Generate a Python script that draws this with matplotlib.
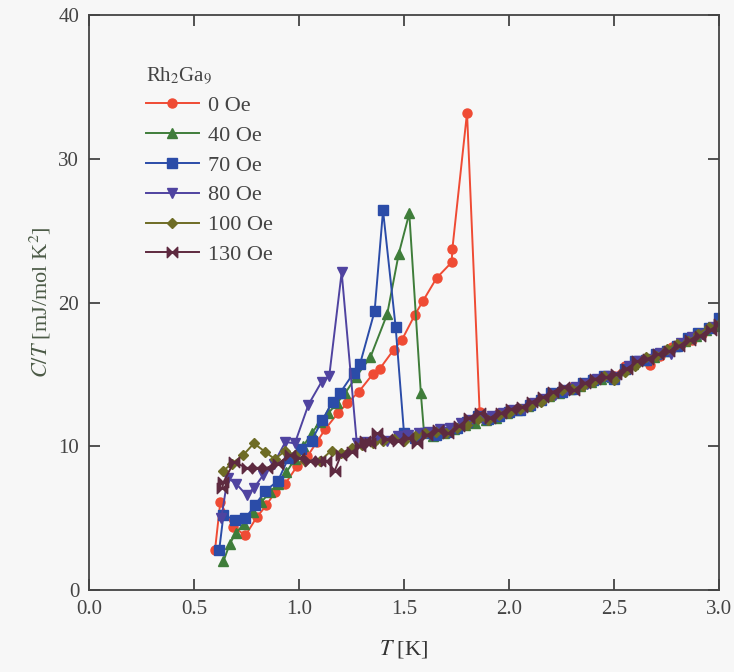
import matplotlib.pyplot as plt
from matplotlib.path import Path

plt.rcParams['font.family'] = ['Liberation Serif', 'DejaVu Serif']
plt.rcParams['mathtext.fontset'] = 'stix'

# C/T data for Rh2Ga9 at different fields
T_0 = [0.60, 0.625, 0.685, 0.745, 0.80, 0.845, 0.885, 0.935, 0.99, 1.04, 1.085, 1.125, 1.185, 1.23,
       1.285, 1.35, 1.385, 1.45, 1.49, 1.55, 1.59, 1.655, 1.727, 1.73, 1.80, 1.86, 1.90, 1.95, 2.00,
       2.05, 2.10, 2.15, 2.20, 2.25, 2.30, 2.35, 2.40, 2.45, 2.50, 2.55, 2.60, 2.67, 2.72, 2.776,
       2.82, 2.87, 2.92, 2.96, 3.00]
C_0 = [2.8, 6.1, 4.4, 3.8, 5.1, 5.9, 6.8, 7.4, 8.6, 9.3, 10.3, 11.2, 12.3, 13.0,
       13.8, 15.0, 15.4, 16.7, 17.4, 19.1, 20.1, 21.7, 22.8, 23.7, 33.2, 12.4, 12.0, 12.3, 12.5,
       12.6, 12.9, 13.3, 13.5, 13.9, 14.1, 14.4, 14.6, 14.8, 14.9, 15.6, 15.8, 15.65, 16.3, 16.9,
       17.1, 17.4, 17.8, 18.2, 18.6]

T_40 = [0.64, 0.67, 0.70, 0.74, 0.78, 0.82, 0.86, 0.90, 0.94, 0.98, 1.02, 1.06, 1.10, 1.14, 1.18,
        1.22, 1.27, 1.34, 1.42, 1.475, 1.525, 1.58, 1.595, 1.64, 1.69, 1.74, 1.79, 1.84, 1.89, 1.94,
        1.99, 2.04, 2.09, 2.14, 2.19, 2.24, 2.29, 2.34, 2.39, 2.44, 2.49, 2.54, 2.59, 2.64, 2.69,
        2.74, 2.79, 2.84, 2.89, 2.94, 2.99]
C_40 = [2.0, 3.2, 4.0, 4.6, 5.4, 6.1, 6.8, 7.4, 8.2, 9.1, 10.0, 10.9, 11.7, 12.3, 13.0,
        13.7, 14.8, 16.2, 19.2, 23.4, 26.2, 13.7, 11.0, 10.7, 10.9, 11.2, 11.5, 11.6, 11.8, 12.0,
        12.3, 12.5, 12.8, 13.2, 13.5, 13.7, 14.0, 14.2, 14.5, 14.7, 14.8, 15.3, 15.7, 16.0, 16.2,
        16.6, 17.0, 17.3, 17.7, 18.1, 18.4]

T_70 = [0.62, 0.64, 0.695, 0.745, 0.79, 0.84, 0.90, 0.95, 1.01, 1.06, 1.11, 1.16, 1.195, 1.26,
        1.29, 1.36, 1.40, 1.46, 1.50, 1.55, 1.60, 1.65, 1.70, 1.75, 1.80, 1.85, 1.90, 1.95, 2.00,
        2.05, 2.10, 2.15, 2.20, 2.25, 2.30, 2.35, 2.40, 2.45, 2.50, 2.55, 2.60, 2.65, 2.70, 2.75,
        2.80, 2.85, 2.90, 2.95, 3.00]
C_70 = [2.8, 5.2, 4.9, 5.0, 5.9, 6.9, 7.6, 9.2, 9.8, 10.4, 11.8, 13.1, 13.7, 15.1,
        15.7, 19.4, 26.4, 18.3, 10.9, 10.6, 10.9, 10.8, 11.0, 11.3, 11.7, 12.1, 11.9, 12.1, 12.4,
        12.5, 12.9, 13.2, 13.7, 13.8, 14.0, 14.4, 14.6, 14.9, 14.7, 15.4, 15.9, 16.0, 16.4, 16.6,
        17.0, 17.5, 17.9, 18.2, 18.9]

T_80 = [0.63, 0.66, 0.70, 0.75, 0.785, 0.83, 0.88, 0.935, 0.98, 1.045, 1.108, 1.144, 1.203, 1.275,
        1.32, 1.37, 1.42, 1.47, 1.52, 1.57, 1.62, 1.67, 1.72, 1.77, 1.82, 1.87, 1.92, 1.97, 2.02,
        2.07, 2.12, 2.17, 2.22, 2.27, 2.32, 2.37, 2.42, 2.47, 2.52, 2.57, 2.62, 2.67, 2.72, 2.77,
        2.82, 2.87, 2.92, 2.97]
C_80 = [5.0, 7.8, 7.4, 6.6, 7.1, 8.0, 8.8, 10.3, 10.2, 12.9, 14.5, 14.9, 22.1, 10.25,
        10.3, 10.5, 10.4, 10.7, 10.8, 10.9, 11.0, 11.2, 11.3, 11.6, 11.8, 12.0, 12.1, 12.3, 12.5,
        12.6, 13.0, 13.3, 13.6, 13.9, 14.1, 14.3, 14.7, 14.9, 14.8, 15.6, 15.9, 16.1, 16.5, 16.4,
        17.2, 17.6, 17.8, 18.3]

T_100 = [0.64, 0.68, 0.735, 0.785, 0.84, 0.885, 0.935, 0.98, 1.03, 1.10, 1.155, 1.20, 1.25, 1.30,
         1.35, 1.40, 1.45, 1.50, 1.55, 1.60, 1.65, 1.70, 1.75, 1.80, 1.85, 1.90, 1.95, 2.00, 2.05,
         2.10, 2.15, 2.20, 2.25, 2.30, 2.35, 2.40, 2.45, 2.50, 2.55, 2.60, 2.65, 2.70, 2.75, 2.80,
         2.85, 2.90, 2.95, 3.00]
C_100 = [8.3, 8.8, 9.4, 10.2, 9.6, 9.1, 9.7, 9.4, 9.0, 9.0, 9.7, 9.5, 9.9, 10.1,
         10.2, 10.4, 10.5, 10.4, 10.7, 10.9, 11.0, 10.9, 11.3, 11.5, 11.9, 11.8, 12.2, 12.3, 12.6,
         12.8, 13.1, 13.5, 13.9, 14.0, 14.2, 14.5, 14.9, 14.6, 15.2, 15.6, 16.2, 16.3, 16.8, 17.1,
         17.3, 17.8, 18.3, 18.5]

T_130 = [0.635, 0.64, 0.69, 0.75, 0.80, 0.846, 0.90, 0.957, 1.00, 1.05, 1.10, 1.13, 1.17, 1.20,
         1.25, 1.29, 1.315, 1.34, 1.37, 1.42, 1.47, 1.52, 1.56, 1.61, 1.66, 1.71, 1.76, 1.81, 1.86,
         1.91, 1.96, 2.01, 2.06, 2.11, 2.16, 2.21, 2.26, 2.31, 2.36, 2.41, 2.46, 2.51, 2.56, 2.61,
         2.66, 2.71, 2.76, 2.81, 2.86, 2.91, 2.96, 3.00]
C_130 = [7.1, 7.5, 8.9, 8.5, 8.5, 8.5, 8.8, 9.4, 9.2, 9.0, 9.0, 9.0, 8.3, 9.4,
         9.6, 10.0, 10.4, 10.2, 10.9, 10.5, 10.4, 10.6, 10.2, 10.8, 11.1, 10.9, 11.4, 12.0, 12.3,
         12.0, 12.3, 12.6, 12.7, 13.1, 13.4, 13.8, 14.1, 13.9, 14.4, 14.7, 14.8, 15.0, 15.4, 15.9,
         16.1, 16.4, 16.6, 17.0, 17.4, 17.7, 18.1, 18.5]

series_T = [T_0, T_40, T_70, T_80, T_100, T_130]
series_C = [C_0, C_40, C_70, C_80, C_100, C_130]
labels = ['0 Oe', '40 Oe', '70 Oe', '80 Oe', '100 Oe', '130 Oe']
colors = ['#ef4b34', '#3f7d3a', '#2b4ca8', '#4f43a0', '#6e6c25', '#5e2a40']

bowtie = Path([(-1, 1), (-1, -1), (0, 0), (-1, 1),
               (1, 1), (1, -1), (0, 0), (1, 1)],
              [Path.MOVETO, Path.LINETO, Path.LINETO, Path.CLOSEPOLY,
               Path.MOVETO, Path.LINETO, Path.LINETO, Path.CLOSEPOLY])
markers = ['o', '^', 's', 'v', 'D', bowtie]
msizes = [6.5, 7, 6.5, 7, 5.5, 7.5]

bg = '#f7f7f7'
fig = plt.figure(figsize=(7.34, 6.72), dpi=100, facecolor=bg)
ax = fig.add_axes([0.1213, 0.122, 0.8583, 0.8557], facecolor=bg)

for T, C, lab, col, mk, ms in zip(series_T, series_C, labels, colors, markers, msizes):
    ax.plot(T, C, color=col, marker=mk, markersize=ms, linewidth=1.4, label=lab)

ax.set_xlim(0, 3.0)
ax.set_ylim(0, 40)
ax.set_xticks([0.0, 0.5, 1.0, 1.5, 2.0, 2.5, 3.0])
ax.set_yticks([0, 10, 20, 30, 40])
ax.tick_params(direction='in', top=True, right=True, length=8, width=1.3,
               colors='#444444', labelsize=15, pad=7)
for sp in ax.spines.values():
    sp.set_color('#444444')
    sp.set_linewidth(1.3)

ax.set_xlabel(r'$T$ [K]', fontsize=16, color='#333333', labelpad=14)
ax.set_ylabel(r'$C/T$ [mJ/mol K$^2$]', fontsize=16, color='#4b5a46', labelpad=4)

leg = ax.legend(title=r'Rh$_2$Ga$_9$', loc='upper left', bbox_to_anchor=(0.065, 0.94),
                frameon=False, fontsize=16, title_fontsize=15, handlelength=2.4,
                labelspacing=0.42, borderpad=0.2, handletextpad=0.4)
leg._legend_box.align = 'left'
for t in leg.get_texts():
    t.set_color('#444444')
leg.get_title().set_color('#444444')

fig.savefig('out.png', dpi=100, facecolor=bg)
